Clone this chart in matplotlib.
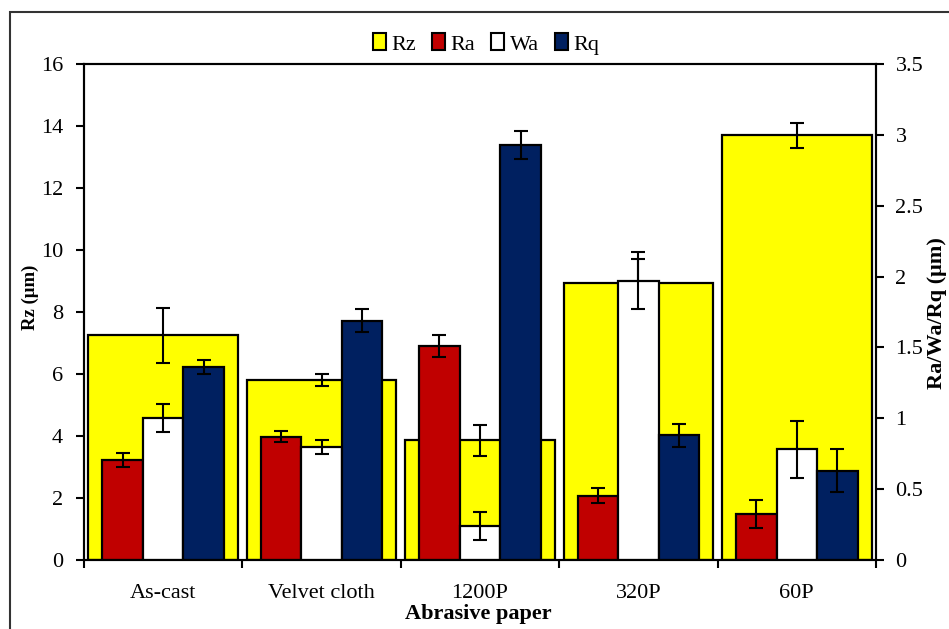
import matplotlib.pyplot as plt
import numpy as np
from matplotlib.patches import Rectangle, Patch

categories = ["As-cast", "Velvet cloth", "1200P", "320P", "60P"]
rz = [7.25, 5.8, 3.86, 8.93, 13.7]
rz_err = [0.88, 0.2, 0.5, 0.78, 0.4]
ra = [0.705, 0.87, 1.51, 0.455, 0.325]
ra_err = [0.05, 0.04, 0.08, 0.05, 0.1]
wa = [1.0, 0.8, 0.24, 1.97, 0.78]
wa_err = [0.1, 0.05, 0.1, 0.2, 0.2]
rq = [1.36, 1.69, 2.93, 0.88, 0.63]
rq_err = [0.05, 0.08, 0.1, 0.08, 0.15]

plt.rcParams["font.family"] = ["Liberation Serif", "DejaVu Serif"]
plt.rcParams["font.size"] = 16

YELLOW = "#ffff00"
RED = "#c00000"
WHITE = "#ffffff"
NAVY = "#002060"

fig = plt.figure(figsize=(9.49, 6.29), dpi=100)
ax1 = fig.add_axes([84 / 949, 1 - 560 / 629, (876 - 84) / 949, (560 - 64) / 629])
ax2 = ax1.twinx()

x = np.arange(len(categories))
ek = dict(ecolor="black", elinewidth=1.5, capsize=5, capthick=1.5)

# Rz: wide yellow bars on the left axis
ax1.bar(x, rz, width=0.945, color=YELLOW, edgecolor="black", linewidth=1.6, zorder=2)
ax1.errorbar(x, rz, yerr=rz_err, fmt="none", zorder=3, **ek)

# Ra / Wa / Rq: narrow bars on the right axis
w = 0.256
for off, vals, errs, col in [(-w, ra, ra_err, RED), (0, wa, wa_err, WHITE), (w, rq, rq_err, NAVY)]:
    ax2.bar(x + off, vals, width=w, color=col, edgecolor="black", linewidth=1.6, zorder=2)
    ax2.errorbar(x + off, vals, yerr=errs, fmt="none", zorder=3, **ek)

ax1.set_xlim(-0.5, len(categories) - 0.5)
ax1.set_ylim(0, 16)
ax1.set_yticks(np.arange(0, 17, 2))
ax2.set_ylim(0, 3.5)
ax2.set_yticks(np.arange(0, 3.6, 0.5))
ax2.set_yticklabels(["0", "0.5", "1", "1.5", "2", "2.5", "3", "3.5"])

ax1.set_xticks(np.arange(-0.5, len(categories), 1.0))
ax1.set_xticklabels([])
ax1.set_xticks(x, minor=True)
ax1.set_xticklabels(categories, minor=True)
ax1.tick_params(axis="x", which="minor", length=0, pad=17)
ax1.tick_params(axis="x", which="major", direction="out", length=6, width=1.5)
ax1.tick_params(axis="y", direction="out", length=6, width=1.5, pad=9)
ax2.tick_params(axis="y", direction="out", length=6, width=1.5, pad=8)

for a in (ax1, ax2):
    for s in a.spines.values():
        s.set_linewidth(1.5)

fig.text(30 / 949, 1 - 297 / 629, "Rz (μm)", rotation=90, ha="center", va="center",
         fontweight="bold", fontsize=13.5)
fig.text(937 / 949, 1 - 313 / 629, "Ra/Wa/Rq (μm)", rotation=90, ha="center", va="center",
         fontweight="bold", fontsize=16)
fig.text(478 / 949, 1 - 614 / 629, "Abrasive paper", ha="center", va="center",
         fontweight="bold", fontsize=16)

handles = [Patch(facecolor=c, edgecolor="black", linewidth=1.5) for c in (YELLOW, RED, WHITE, NAVY)]
fig.legend(handles, ["Rz", "Ra", "Wa", "Rq"], loc="center", bbox_to_anchor=(486 / 949, 1 - 44 / 629),
           ncol=4, frameon=False, handlelength=0.6, handleheight=0.8, handletextpad=0.25,
           columnspacing=0.7, fontsize=16)

# outer frame, cut by the right and bottom edges as in the reference
fig.patches.append(Rectangle((10 / 949, -0.1), 1.2, 1 - 12 / 629 + 0.1, transform=fig.transFigure,
                             fill=False, edgecolor="#333333", linewidth=1.5))

fig.savefig("out.png", dpi=100)
